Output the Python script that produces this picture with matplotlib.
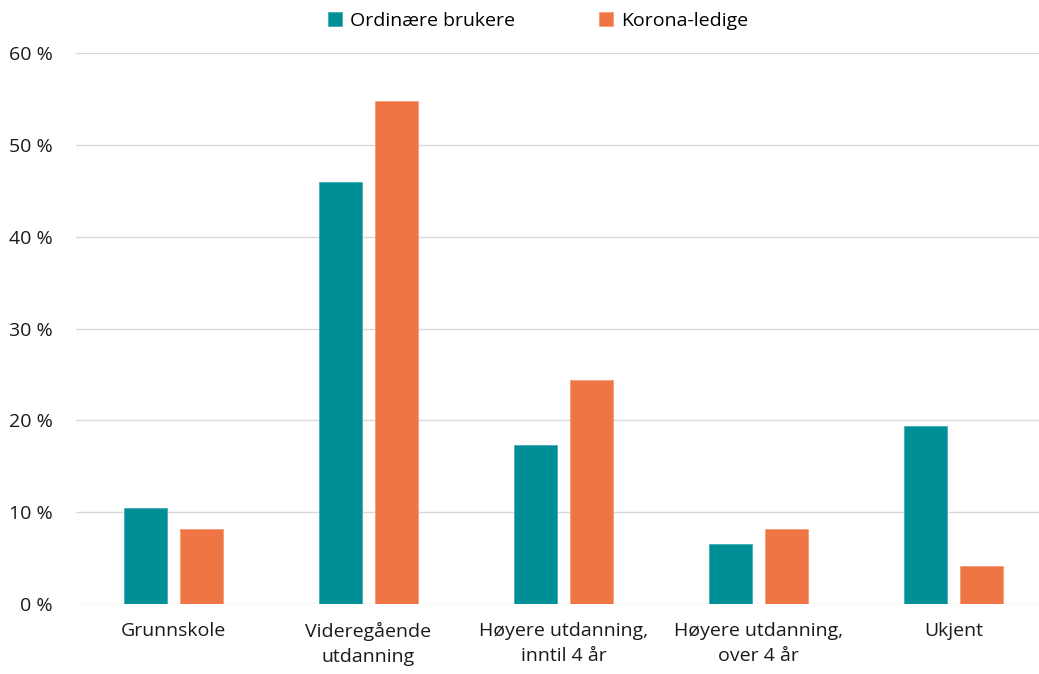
import matplotlib
matplotlib.use("Agg")
import matplotlib.pyplot as plt
import numpy as np

plt.rcParams['font.family'] = ['Open Sans', 'DejaVu Sans']

categories = ["Grunnskole", "Videregående\nutdanning", "Høyere utdanning,\ninntil 4 år",
              "Høyere utdanning,\nover 4 år", "Ukjent"]
ordinaere = [10.4, 46.0, 17.3, 6.5, 19.4]
korona = [8.2, 54.8, 24.4, 8.2, 4.1]

teal = '#008F96'
orange = '#F07545'

fig = plt.figure(figsize=(10.39, 6.74), dpi=100)
ax = fig.add_axes([76 / 1039, 70 / 674, 975 / 1039, 551 / 674])

x = np.arange(len(categories))
w = 0.22
off = 0.144
ax.bar(x - off, ordinaere, w, color=teal, edgecolor='#3fb0b5', linewidth=0.6,
       label='Ordinære brukere', zorder=3)
ax.bar(x + off, korona, w, color=orange, edgecolor='#f59a78', linewidth=0.6,
       label='Korona-ledige', zorder=3)

ax.set_xlim(-0.5, len(categories) - 0.5)
ax.set_ylim(0, 60)
ax.set_yticks(range(0, 61, 10))
ax.set_yticklabels([f"{v} %" for v in range(0, 61, 10)], fontsize=14, color='#1a1a1a')
ax.set_xticks(x)
ax.set_xticklabels(categories, fontsize=14, color='#1a1a1a', linespacing=1.5)
ax.tick_params(length=0)
ax.tick_params(axis='y', pad=17)
ax.tick_params(axis='x', pad=13)
ax.grid(axis='y', color='#d9d9d9', linewidth=1, zorder=0)
for s in ax.spines.values():
    s.set_visible(False)

ax.legend(loc='center', bbox_to_anchor=(538 / 1039, 653 / 674), bbox_transform=fig.transFigure,
          ncol=2, frameon=False, fontsize=14, handlelength=0.75, handleheight=0.75,
          columnspacing=4.3, handletextpad=0.4)

fig.savefig('out.png', dpi=100)
